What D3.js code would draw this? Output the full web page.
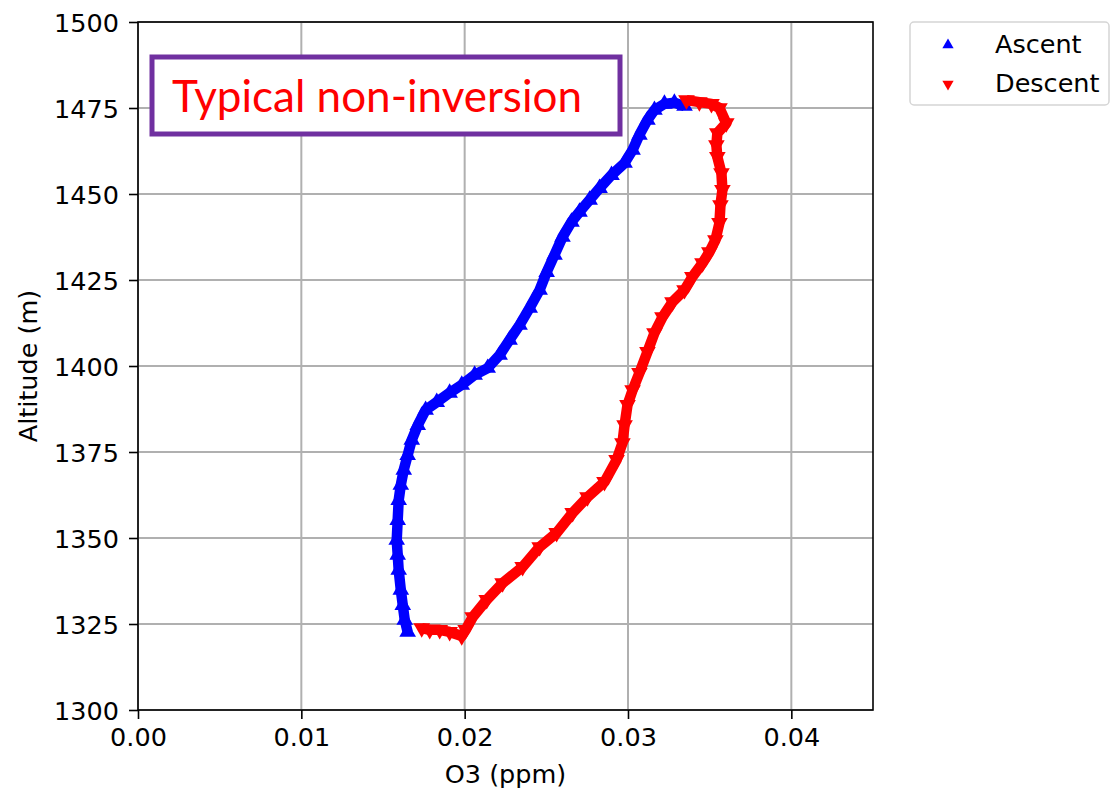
<!DOCTYPE html>
<html>
<head>
<meta charset="utf-8">
<script src="https://cdn.jsdelivr.net/npm/d3@7"></script>
<style>
  body { margin: 0; background: #fff; }
  svg { display: block; font-family: "DejaVu Sans", sans-serif; }
</style>
</head>
<body>
<div id="grafico"></div>
<script>
// subida (ascent) - O3 em ppm, altitude em m
const subidaO3 = [0.01651, 0.01633, 0.01621, 0.01609, 0.01596, 0.0159, 0.01584, 0.0159, 0.01596, 0.01609,
  0.01627, 0.01651, 0.01676, 0.01713, 0.01761, 0.01829, 0.01908, 0.01982, 0.02061, 0.02141,
  0.02214, 0.02275, 0.02336, 0.02398, 0.02459, 0.02502, 0.0255, 0.02599, 0.02654, 0.02703,
  0.02765, 0.02826, 0.02899, 0.02979, 0.03028, 0.0307, 0.03119, 0.03162, 0.03223, 0.03284, 0.03346];
const subidaAlt = [1322.7, 1326.2, 1330.5, 1334.9, 1340.7, 1345.1, 1349.4, 1355.2, 1361.0, 1365.4,
  1369.8, 1374.1, 1378.5, 1382.8, 1387.2, 1389.5, 1392.2, 1394.5, 1397.4, 1399.4,
  1403.2, 1407.6, 1411.9, 1416.9, 1422.1, 1427.3, 1432.3, 1437.5, 1441.9, 1444.8,
  1448.3, 1451.7, 1455.5, 1459.0, 1462.8, 1467.2, 1471.5, 1474.4, 1476.2, 1476.5, 1475.6];

// descida (descent)
const descidaO3 = [0.03358, 0.03437, 0.03511, 0.0356, 0.03602, 0.03547, 0.03541, 0.03547, 0.03572, 0.03578,
  0.03566, 0.0356, 0.03535, 0.03498, 0.03456, 0.03394, 0.03346, 0.03272, 0.03211, 0.03162,
  0.03119, 0.0307, 0.03028, 0.02997, 0.02979, 0.02966, 0.0293, 0.02856, 0.02752, 0.02661,
  0.02563, 0.02459, 0.02355, 0.02232, 0.02135, 0.02049, 0.02006, 0.01982, 0.01908, 0.01847,
  0.01786, 0.01737];
const descidaAlt = [1477.3, 1476.7, 1476.2, 1475.0, 1470.6, 1467.7, 1464.2, 1460.8, 1456.1, 1451.2,
  1446.8, 1441.6, 1436.6, 1433.1, 1429.9, 1425.9, 1422.1, 1418.6, 1414.2, 1409.6,
  1404.1, 1398.0, 1393.0, 1388.7, 1382.8, 1377.6, 1372.7, 1366.3, 1361.9, 1357.3,
  1351.5, 1347.4, 1341.6, 1336.9, 1332.0, 1327.0, 1323.3, 1321.5, 1322.7, 1323.3,
  1323.3, 1323.8];

const ticksX = [0.00, 0.01, 0.02, 0.03, 0.04];
const ticksY = [1300, 1325, 1350, 1375, 1400, 1425, 1450, 1475, 1500];
const legendaNomes = ["Ascent", "Descent"];
const legendaCores = ["#0000ff", "#ff0000"];
const anotacao = "Typical non-inversion";

const largura = 1114, altura = 790;
const margem = { left: 138, top: 22, right: 241, bottom: 80 };
const plotW = largura - margem.left - margem.right;
const plotH = altura - margem.top - margem.bottom;
const fonte = "25.5px";

const svg = d3.select("#grafico")
  .append("svg")
  .attr("width", largura)
  .attr("height", altura);

const x = d3.scaleLinear().domain([0, 0.045]).range([0, plotW]);
const y = d3.scaleLinear().domain([1300, 1500]).range([plotH, 0]);

const g = svg.append("g").attr("transform", `translate(${margem.left},${margem.top})`);

// grade
g.selectAll("line.gx")
  .data(ticksX)
  .enter()
  .append("line")
  .attr("class", "gx")
  .attr("x1", d => x(d)).attr("x2", d => x(d))
  .attr("y1", 0).attr("y2", plotH)
  .attr("stroke", "#b0b0b0")
  .attr("stroke-width", 2);

g.selectAll("line.gy")
  .data(ticksY)
  .enter()
  .append("line")
  .attr("class", "gy")
  .attr("x1", 0).attr("x2", plotW)
  .attr("y1", d => y(d)).attr("y2", d => y(d))
  .attr("stroke", "#b0b0b0")
  .attr("stroke-width", 2);

// eixos
const eixoX = g.append("g")
  .attr("transform", `translate(0,${plotH})`)
  .call(d3.axisBottom(x).tickValues(ticksX).tickFormat(d3.format(".2f")).tickSize(9).tickPadding(9));
const eixoY = g.append("g")
  .call(d3.axisLeft(y).tickValues(ticksY).tickFormat(d3.format("d")).tickSize(9).tickPadding(10));

[eixoX, eixoY].forEach(e => {
  e.select(".domain").remove();
  e.selectAll("line").attr("stroke", "#000").attr("stroke-width", 1.6);
  e.selectAll("text")
    .attr("font-family", "DejaVu Sans, sans-serif")
    .attr("font-size", fonte)
    .attr("fill", "#000");
});
eixoY.selectAll("text").attr("dy", "0.36em");

g.append("rect")
  .attr("width", plotW)
  .attr("height", plotH)
  .attr("fill", "none")
  .attr("stroke", "#000")
  .attr("stroke-width", 1.6);

// séries
function desenharSerie(o3, alt, cor, rot) {
  const pontos = o3.map((v, i) => [v, alt[i]]);
  const linha = d3.line().x(d => x(d[0])).y(d => y(d[1]));
  g.append("path")
    .datum(pontos)
    .attr("d", linha)
    .attr("fill", "none")
    .attr("stroke", cor)
    .attr("stroke-width", 10.5)
    .attr("stroke-linejoin", "round");
  g.selectAll(null)
    .data(pontos)
    .enter()
    .append("path")
    .attr("d", d3.symbol().type(d3.symbolTriangle).size(120))
    .attr("transform", d => `translate(${x(d[0])},${y(d[1])}) rotate(${rot})`)
    .attr("fill", cor);
}

desenharSerie(subidaO3, subidaAlt, legendaCores[0], 0);
desenharSerie(descidaO3, descidaAlt, legendaCores[1], 180);

// caixa de anotação
svg.append("rect")
  .attr("x", 152).attr("y", 57)
  .attr("width", 468).attr("height", 77)
  .attr("fill", "#fff")
  .attr("stroke", "#7030a0")
  .attr("stroke-width", 5);
svg.append("text")
  .attr("x", 172).attr("y", 112)
  .attr("font-family", "Lato, 'Open Sans', sans-serif")
  .attr("font-size", "44px")
  .attr("fill", "#ff0000")
  .text(anotacao);

// legenda
const leg = svg.append("g").attr("transform", "translate(910,22)");
leg.append("rect")
  .attr("x", 0).attr("y", 0)
  .attr("width", 199).attr("height", 83)
  .attr("rx", 4)
  .attr("fill", "#fff")
  .attr("stroke", "#d5d5d5")
  .attr("stroke-width", 1.5);
legendaNomes.forEach((nome, i) => {
  leg.append("path")
    .attr("d", d3.symbol().type(d3.symbolTriangle).size(55))
    .attr("transform", `translate(38,${23 + i * 39}) rotate(${i === 0 ? 0 : 180})`)
    .attr("fill", legendaCores[i]);
  leg.append("text")
    .attr("x", 85).attr("y", 22 + i * 39)
    .attr("dy", "0.36em")
    .attr("font-size", fonte)
    .attr("fill", "#000")
    .text(nome);
});

// rótulos dos eixos
svg.append("text")
  .attr("x", margem.left + plotW / 2)
  .attr("y", 783)
  .attr("text-anchor", "middle")
  .attr("font-size", fonte)
  .text("O3 (ppm)");
svg.append("text")
  .attr("transform", `translate(37,${margem.top + plotH / 2}) rotate(-90)`)
  .attr("text-anchor", "middle")
  .attr("font-size", fonte)
  .text("Altitude (m)");
</script>
</body>
</html>
